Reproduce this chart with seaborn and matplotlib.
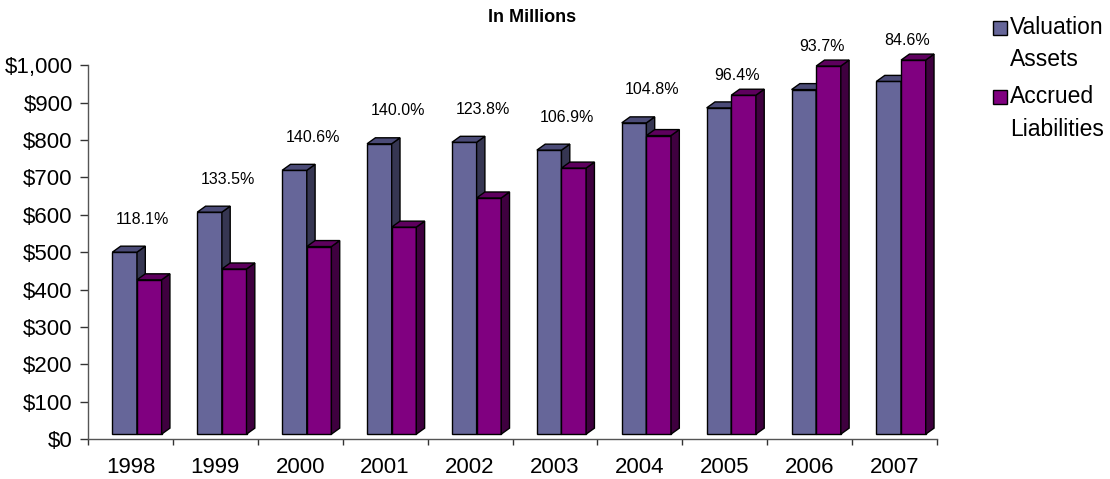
import pandas as pd
import matplotlib.pyplot as plt
import numpy as np
import seaborn as sns
from matplotlib.patches import Polygon, Rectangle

# data ------------------------------------------------
years = ["1998", "1999", "2000", "2001", "2002", "2003", "2004", "2005", "2006", "2007"]
assets = [487, 594, 706, 777, 781, 760, 833, 873, 922, 944]
liabilities = [413, 442, 502, 554, 632, 712, 799, 907, 985, 1001]
funded_ratio = [118.1, 133.5, 140.6, 140.0, 123.8, 106.9, 104.8, 96.4, 93.7, 84.6]
series_names = ["Valuation Assets", "Accrued Liabilities"]

df = pd.DataFrame({
    "Year": years * 2,
    "Series": [series_names[0]] * len(years) + [series_names[1]] * len(years),
    "Value": assets + liabilities,
})

# style -----------------------------------------------
sns.set_style("white")
plt.rcParams["font.family"] = ["Liberation Sans", "DejaVu Sans"]
plt.rcParams["text.color"] = "black"
plt.rcParams["xtick.color"] = "black"
plt.rcParams["ytick.color"] = "black"

front = ["#666699", "#800080"]
side = ["#363652", "#3f003f"]
top = ["#4b4b77", "#5e005e"]

fig = plt.figure(figsize=(11.1, 4.79), dpi=100)
ax = fig.add_axes([88/1110, 1-439/479, (937-88)/1110, (439-65.3)/479])

sns.barplot(data=df, x="Year", y="Value", hue="Series", palette=front,
            saturation=1, width=0.58, edgecolor="black", linewidth=1.0,
            legend=False, ax=ax)

shift = 0.077    # excel pushes the 3d bars a bit right of the category centre
lift = 13        # bars float just above the floor line
dx, dy = 0.098, 16   # fake 3d depth (x units, value units)

for i, cont in enumerate(ax.containers):
    for bar in cont:
        bar.set_x(bar.get_x() + shift)
        bar.set_y(lift)
        bar.set_clip_on(False)
        bar.set_zorder(2 + i)
        x, y, w, h = bar.get_x(), bar.get_y(), bar.get_width(), bar.get_height()
        sidePoly = Polygon([(x+w, y), (x+w+dx, y+dy), (x+w+dx, y+h+dy), (x+w, y+h)],
                           closed=True, facecolor=side[i], edgecolor="black",
                           linewidth=1.0, clip_on=False, zorder=2 + i)
        topPoly = Polygon([(x, y+h), (x+dx, y+h+dy), (x+w+dx, y+h+dy), (x+w, y+h)],
                          closed=True, facecolor=top[i], edgecolor="black",
                          linewidth=1.0, clip_on=False, zorder=2 + i)
        ax.add_patch(sidePoly)
        ax.add_patch(topPoly)

ax.set_xlim(-0.5, 9.5)
ax.set_ylim(0, 1000)
ax.set_xlabel("")
ax.set_ylabel("")

# axes ------------------------------------------------
for s in ("top", "right"):
    ax.spines[s].set_visible(False)
for s in ("left", "bottom"):
    ax.spines[s].set_color("#555555")
    ax.spines[s].set_linewidth(1.0)

ax.set_yticks(np.arange(0, 1001, 100))
ax.set_yticklabels([f"${v:,.0f}" for v in np.arange(0, 1001, 100)], fontsize=16)
ax.tick_params(axis="y", direction="out", length=6, width=1, color="#333333", pad=5, left=True)

ax.set_xticks(range(len(years)))
ax.set_xticklabels(years, fontsize=16)
ax.set_xticks(np.arange(-0.5, len(years)), minor=True)
ax.tick_params(axis="x", which="major", length=0, pad=13)
ax.tick_params(axis="x", which="minor", direction="out", length=4, width=1, color="#333333", bottom=True)

# funded ratio labels -----------------------------------
labelY = np.maximum(np.array(assets) + 88, np.array(liabilities) + 52) + lift
for k, r in enumerate(funded_ratio):
    ax.text(k + shift + 0.07, labelY[k], f"{r:.1f}%", ha="center", va="center",
            fontsize=11.5, color="black")

fig.text(532/1110, 1-18/479, "In Millions", ha="center", va="center",
         fontsize=13, fontweight="bold")

# legend (drawn by hand to mimic excel's wrapped labels) ----
legendRows = [("Valuation", "Assets"), ("Accrued", "Liabilities")]
for i, (l1, l2) in enumerate(legendRows):
    cy = 28 + 69 * i
    fig.patches.append(Rectangle((993/1110, 1-(cy+7)/479), 14/1110, 14/479,
                                 transform=fig.transFigure, facecolor=front[i],
                                 edgecolor="black", linewidth=1.0))
    fig.text(1010/1110, 1-cy/479, l1, ha="left", va="center", fontsize=16.5)
    fig.text(1010/1110, 1-(cy+32)/479, l2, ha="left", va="center", fontsize=16.5)

plt.savefig("out.png", dpi=100)
